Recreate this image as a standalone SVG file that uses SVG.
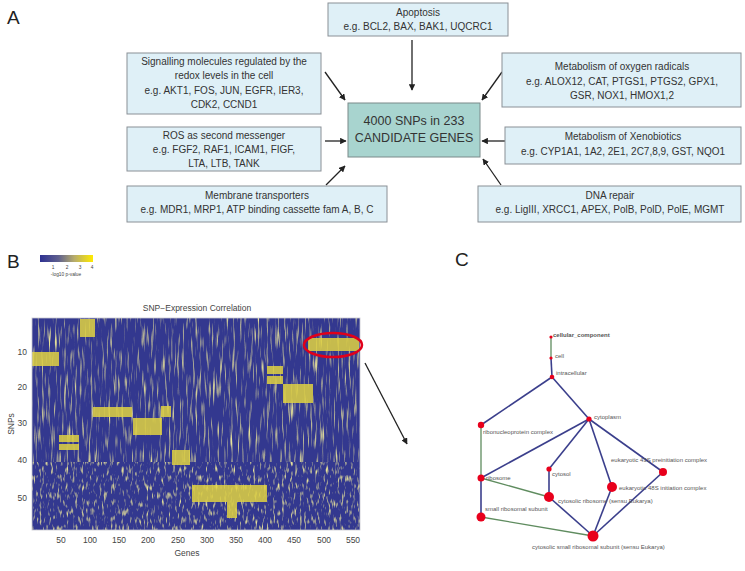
<svg xmlns="http://www.w3.org/2000/svg" width="745" height="571" viewBox="0 0 745 571">
<style>
.bx{fill:#dff0f7;stroke:#8a9096;stroke-width:1}
.bt{font-family:"Liberation Sans",Arial,sans-serif;font-size:10px;fill:#333;text-anchor:middle}
.ct{font-family:"Liberation Sans",Arial,sans-serif;font-size:12.5px;fill:#333;text-anchor:middle}
.pl{font-family:"Liberation Sans",Arial,sans-serif;font-size:19px;fill:#222}
.ax{font-family:"Liberation Sans",Arial,sans-serif;font-size:8.5px;fill:#444}
.cb{font-family:"Liberation Sans",Arial,sans-serif;font-size:4.8px;fill:#444;text-anchor:middle}
.ar{stroke:#222;stroke-width:1.3;fill:none;marker-end:url(#ah)}
.gl{font-family:"Liberation Sans",Arial,sans-serif;font-size:6px;fill:#555}
.en{stroke:#3b3f8c;stroke-width:1.6;fill:none}
.eg{stroke:#5f8c5f;stroke-width:1.3;fill:none}
.nd{fill:#e8001c}
.yb{fill:#e0d242;opacity:0.85}
</style>
<defs>
<marker id="ah" viewBox="0 0 10 10" refX="9" refY="5" markerWidth="6.5" markerHeight="6.5" orient="auto" markerUnits="userSpaceOnUse">
<path d="M0,0 L10,5 L0,10 Z" fill="#222"/>
</marker>
<linearGradient id="cbg" x1="0" x2="1" y1="0" y2="0">
<stop offset="0" stop-color="#2e3192"/>
<stop offset="0.35" stop-color="#5f608e"/>
<stop offset="0.65" stop-color="#b8ad6a"/>
<stop offset="1" stop-color="#ffeb00"/>
</linearGradient>
<filter id="nz1" x="32" y="318" width="328" height="144" filterUnits="userSpaceOnUse">
<feTurbulence type="fractalNoise" baseFrequency="0.45 0.04" numOctaves="2" seed="7"/>
<feColorMatrix type="matrix" values="0 0 0 0 0.8  0 0 0 0 0.76  0 0 0 0 0.32  3.2 0 0 0 -1.72"/>
<feGaussianBlur stdDeviation="0.35"/>
</filter>
<filter id="nz2" x="32" y="462" width="328" height="68" filterUnits="userSpaceOnUse">
<feTurbulence type="fractalNoise" baseFrequency="0.45 0.12" numOctaves="2" seed="11"/>
<feColorMatrix type="matrix" values="0 0 0 0 0.8  0 0 0 0 0.76  0 0 0 0 0.32  3.2 0 0 0 -1.72"/>
<feGaussianBlur stdDeviation="0.35"/>
</filter>
</defs>

<text class="pl" x="7" y="24">A</text>
<text class="pl" x="7" y="268">B</text>
<text class="pl" x="455" y="266">C</text>

<g id="connectors-A">
<line class="ar" x1="412" y1="40" x2="412" y2="90"/>
<line class="ar" x1="325" y1="72" x2="345" y2="100"/>
<line class="ar" x1="325" y1="141" x2="346" y2="141"/>
<line class="ar" x1="326" y1="185" x2="345" y2="166"/>
<line class="ar" x1="502" y1="72" x2="482" y2="100"/>
<line class="ar" x1="505" y1="141" x2="482" y2="141"/>
<line class="ar" x1="501" y1="185" x2="483" y2="159"/>
</g>

<g id="apoptosis">
<rect class="bx" x="328" y="3" width="180" height="33"/>
<text class="bt" x="418" y="16">Apoptosis</text>
<text class="bt" x="418" y="30">e.g. BCL2, BAX, BAK1, UQCRC1</text>
</g>
<g id="signalling">
<rect class="bx" x="127" y="53" width="194" height="61"/>
<text class="bt" x="224" y="65">Signalling molecules regulated by the</text>
<text class="bt" x="224" y="79">redox levels in the cell</text>
<text class="bt" x="224" y="94">e.g. AKT1, FOS, JUN, EGFR, IER3,</text>
<text class="bt" x="224" y="108">CDK2, CCND1</text>
</g>
<g id="ros">
<rect class="bx" x="127" y="127" width="194" height="44"/>
<text class="bt" x="224" y="139">ROS as second messenger</text>
<text class="bt" x="224" y="153">e.g. FGF2, RAF1, ICAM1, FIGF,</text>
<text class="bt" x="224" y="167">LTA, LTB, TANK</text>
</g>
<g id="membrane">
<rect class="bx" x="127" y="186" width="260" height="36"/>
<text class="bt" x="257" y="199">Membrane transporters</text>
<text class="bt" x="257" y="213">e.g. MDR1, MRP1, ATP binding cassette fam A, B, C</text>
</g>
<g id="center">
<rect x="348" y="103" width="132" height="54" fill="#a8d4cf" stroke="#7a8a8a" stroke-width="1"/>
<text class="ct" x="414" y="125">4000 SNPs in 233</text>
<text class="ct" x="414" y="142">CANDIDATE GENES</text>
</g>
<g id="oxygen">
<rect class="bx" x="502" y="53" width="239" height="54"/>
<text class="bt" x="622" y="70">Metabolism of oxygen radicals</text>
<text class="bt" x="622" y="85">e.g. ALOX12, CAT, PTGS1, PTGS2, GPX1,</text>
<text class="bt" x="622" y="99">GSR, NOX1, HMOX1,2</text>
</g>
<g id="xeno">
<rect class="bx" x="505" y="127" width="236" height="37"/>
<text class="bt" x="623" y="140">Metabolism of Xenobiotics</text>
<text class="bt" x="623" y="155">e.g. CYP1A1, 1A2, 2E1, 2C7,8,9, GST, NQO1</text>
</g>
<g id="dna">
<rect class="bx" x="478" y="186" width="263" height="36"/>
<text class="bt" x="610" y="199">DNA repair</text>
<text class="bt" x="610" y="213">e.g. LigIII, XRCC1, APEX, PolB, PolD, PolE, MGMT</text>
</g>

<g id="colorbar">
<rect x="40" y="255" width="53" height="7" fill="url(#cbg)"/>
<text class="cb" x="53" y="269">1</text>
<text class="cb" x="67" y="269">2</text>
<text class="cb" x="80" y="269">3</text>
<text class="cb" x="92" y="269">4</text>
<text class="cb" x="66" y="276">-log10 p-value</text>
</g>

<g id="heatmap">
<text class="ax" x="197" y="311" text-anchor="middle">SNP−Expression Correlation</text>
<rect x="32" y="318" width="328" height="212" fill="#33388f"/>
<rect x="32" y="318" width="328" height="144" filter="url(#nz1)"/>
<rect x="32" y="462" width="328" height="68" filter="url(#nz2)"/>
<rect class="yb" x="80" y="319" width="15" height="18"/>
<rect class="yb" x="32" y="352" width="27" height="14"/>
<rect class="yb" x="93" y="407" width="39" height="10"/>
<rect class="yb" x="133" y="418" width="29" height="17"/>
<rect class="yb" x="161" y="406" width="10" height="11" opacity="0.6"/>
<rect class="yb" x="59" y="435" width="20" height="7"/>
<rect class="yb" x="59" y="444" width="20" height="6"/>
<rect class="yb" x="172" y="450" width="18" height="15"/>
<rect class="yb" x="192" y="485" width="75" height="17"/>
<rect class="yb" x="227" y="502" width="10" height="16" opacity="0.5"/>
<rect class="yb" x="267" y="366" width="16" height="8"/>
<rect class="yb" x="267" y="376" width="16" height="8"/>
<rect class="yb" x="283" y="384" width="30" height="19"/>
<rect class="yb" x="308" y="338" width="51" height="13"/>
<rect x="32" y="318" width="328" height="212" fill="none" stroke="#c8c8d0" stroke-width="0.8"/>
<ellipse cx="333" cy="345" rx="29" ry="12" fill="none" stroke="#e0001a" stroke-width="2.5"/>
<g class="ax" text-anchor="end">
<text x="27" y="355">10</text>
<text x="27" y="390">20</text>
<text x="27" y="426">30</text>
<text x="27" y="463">40</text>
<text x="27" y="501">50</text>
</g>
<g class="ax" text-anchor="middle">
<text x="61" y="543">50</text>
<text x="90" y="543">100</text>
<text x="119" y="543">150</text>
<text x="148" y="543">200</text>
<text x="178" y="543">250</text>
<text x="207" y="543">300</text>
<text x="236" y="543">350</text>
<text x="265" y="543">400</text>
<text x="294" y="543">450</text>
<text x="324" y="543">500</text>
<text x="353" y="543">550</text>
<text x="187" y="556">Genes</text>
</g>
<text class="ax" x="0" y="0" text-anchor="middle" transform="translate(14,424) rotate(-90)">SNPs</text>
</g>

<g id="connector-BC">
<line class="ar" x1="365" y1="363" x2="407" y2="444"/>
</g>

<g id="go-edges">
<line class="eg" x1="551" y1="337" x2="551" y2="358"/>
<line class="en" x1="551" y1="358" x2="552" y2="377"/>
<line class="en" x1="552" y1="377" x2="481" y2="425"/>
<line class="en" x1="552" y1="377" x2="589" y2="419"/>
<line class="eg" x1="481" y1="425" x2="481" y2="478"/>
<line class="en" x1="589" y1="419" x2="481" y2="478"/>
<line class="en" x1="589" y1="419" x2="549" y2="469"/>
<line class="en" x1="589" y1="419" x2="612" y2="487"/>
<line class="en" x1="589" y1="419" x2="663" y2="472"/>
<line class="en" x1="481" y1="478" x2="481" y2="517"/>
<line class="eg" x1="481" y1="478" x2="549" y2="497"/>
<line class="en" x1="549" y1="469" x2="549" y2="497"/>
<line class="en" x1="549" y1="497" x2="593" y2="536"/>
<line class="en" x1="612" y1="487" x2="593" y2="536"/>
<line class="en" x1="663" y1="472" x2="593" y2="536"/>
<line class="eg" x1="481" y1="517" x2="593" y2="536"/>
</g>
<g id="go-cellular_component"><circle class="nd" cx="551" cy="337" r="1.6"/><text class="gl" x="553" y="337" font-weight="bold" fill="#333">cellular_component</text></g>
<g id="go-cell"><circle class="nd" cx="551" cy="358" r="1.6"/><text class="gl" x="555" y="358">cell</text></g>
<g id="go-intracellular"><circle class="nd" cx="552" cy="377" r="2.3"/><text class="gl" x="556" y="375">intracellular</text></g>
<g id="go-ribonucleoprotein"><circle class="nd" cx="481" cy="425" r="3.2"/><text class="gl" x="483" y="434">ribonucleoprotein complex</text></g>
<g id="go-cytoplasm"><circle class="nd" cx="589" cy="419" r="2.6"/><text class="gl" x="594" y="419">cytoplasm</text></g>
<g id="go-ribosome"><circle class="nd" cx="481" cy="478" r="3.5"/><text class="gl" x="486" y="480">ribosome</text></g>
<g id="go-cytosol"><circle class="nd" cx="549" cy="469" r="2.6"/><text class="gl" x="552" y="476">cytosol</text></g>
<g id="go-cytosolic-ribosome"><circle class="nd" cx="549" cy="497" r="5"/><text class="gl" x="558" y="503">cytosolic ribosome (sensu Eukarya)</text></g>
<g id="go-48S"><circle class="nd" cx="612" cy="487" r="5"/><text class="gl" x="619" y="490">eukaryotic 48S initiation complex</text></g>
<g id="go-43S"><circle class="nd" cx="663" cy="472" r="4"/><text class="gl" x="611" y="462">eukaryotic 43S preinitiation complex</text></g>
<g id="go-small-subunit"><circle class="nd" cx="481" cy="517" r="4.5"/><text class="gl" x="485" y="511">small ribosomal subunit</text></g>
<g id="go-cytosolic-small"><circle class="nd" cx="593" cy="536" r="5.5"/><text class="gl" x="532" y="549">cytosolic small ribosomal subunit (sensu Eukarya)</text></g>
</svg>
